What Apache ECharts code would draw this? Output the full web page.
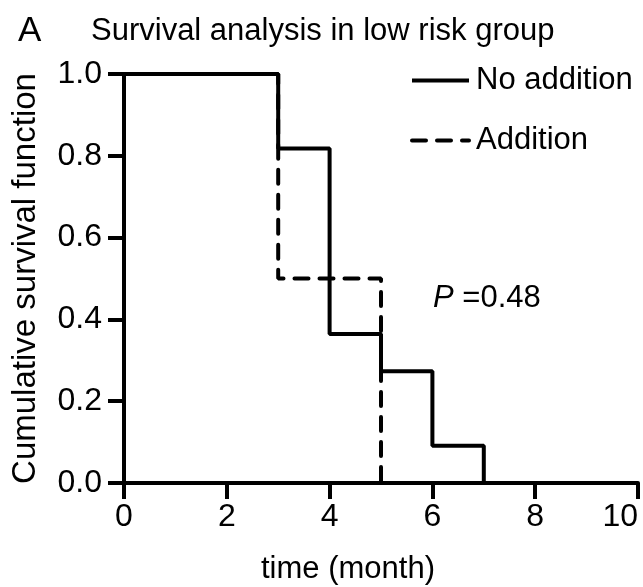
<!DOCTYPE html>
<html>
<head>
<meta charset="utf-8">
<script src="https://cdn.jsdelivr.net/npm/echarts@6/dist/echarts.min.js"></script>
<style>
  html, body { margin: 0; padding: 0; background: #fff; }
  #chart { width: 643px; height: 587px; }
</style>
</head>
<body>
<div id="chart"></div>
<script>
// Kaplan-Meier step points: [time, survival]
var noAddition = [[0, 1.0], [3, 0.818], [4, 0.364], [5, 0.273], [6, 0.091], [7, 0.0]];
var addition = [[0, 1.0], [3, 0.5], [5, 0.0]];
var xTicks = [0, 2, 4, 6, 8, 10];
var yTicks = ['0.0', '0.2', '0.4', '0.6', '0.8', '1.0'];

var font = "'Liberation Sans', Arial, sans-serif";
var chart = echarts.init(document.getElementById('chart'), null, { renderer: 'canvas' });

var axisCommon = {
    axisLine: { lineStyle: { color: '#000', width: 4 } },
    axisTick: { show: true, length: 16, lineStyle: { color: '#000', width: 4 } },
    splitLine: { show: false }
};

var option = {
    backgroundColor: '#fff',
    animation: false,
    title: [
        { text: 'A', left: 13, top: 9, textStyle: { fontSize: 35, fontWeight: 'normal', color: '#000', fontFamily: font } },
        { text: 'Survival analysis in low risk group', left: 86, top: 11,
          textStyle: { fontSize: 31, fontWeight: 'normal', color: '#000', fontFamily: font } }
    ],
    grid: { left: 124, right: 5, top: 74, bottom: 104, containLabel: false, outerBoundsMode: 'none' },
    legend: {
        orient: 'vertical',
        left: 410,
        top: 65,
        padding: 0,
        itemWidth: 57,
        itemHeight: 14,
        itemGap: 29,
        data: ['No addition', 'Addition'],
        itemStyle: { opacity: 0 },
        lineStyle: { width: 4 },
        textStyle: { fontSize: 31, color: '#000', fontFamily: font, padding: [0, 0, 0, 2] }
    },
    xAxis: Object.assign({}, axisCommon, {
        type: 'value',
        min: xTicks[0],
        max: xTicks[xTicks.length - 1],
        interval: 2,
        name: 'time (month)',
        nameLocation: 'middle',
        nameGap: 71,
        nameTextStyle: { color: '#000', fontSize: 31, fontFamily: font, padding: [0, 66, 0, 0] },
        axisLabel: { fontSize: 32, color: '#000', fontFamily: font, margin: 18, alignMaxLabel: 'right' }
    }),
    yAxis: Object.assign({}, axisCommon, {
        type: 'value',
        min: 0,
        max: 1,
        interval: 0.2,
        name: 'Cumulative survival function',
        nameLocation: 'middle',
        nameGap: 82,
        nameTextStyle: { color: '#000', fontSize: 33, fontFamily: font },
        axisLabel: {
            fontSize: 32, color: '#000', fontFamily: font, margin: 22,
            formatter: function (v) { return yTicks[Math.round(v * 5)]; }
        }
    }),
    graphic: [{
        type: 'text',
        left: 433,
        top: 283,
        style: {
            text: '{i|P} =0.48',
            fontSize: 31,
            fontFamily: font,
            fill: '#000',
            rich: { i: { fontStyle: 'italic', fontSize: 31, fontFamily: font } }
        }
    }],
    series: [
        {
            name: 'Addition',
            type: 'line',
            step: 'end',
            data: addition,
            symbol: 'none',
            z: 2,
            lineStyle: { color: '#000', width: 4, type: [14, 11], cap: 'round' },
            itemStyle: { color: '#000' }
        },
        {
            name: 'No addition',
            type: 'line',
            step: 'end',
            data: noAddition,
            symbol: 'none',
            z: 3,
            lineStyle: { color: '#000', width: 4, type: 'solid' },
            itemStyle: { color: '#000' }
        }
    ]
};

chart.setOption(option);
window.addEventListener('resize', function () {
    chart.resize();
});
</script>
</body>
</html>
